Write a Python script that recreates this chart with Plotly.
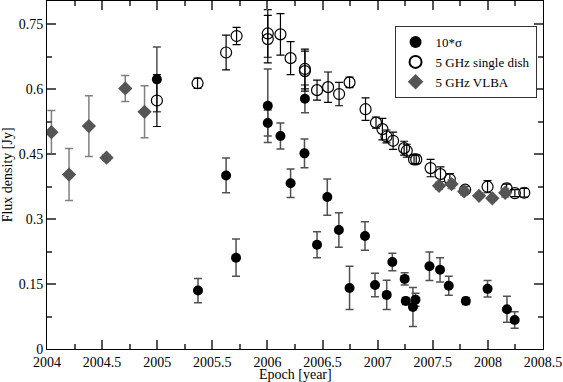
import plotly.graph_objects as go

# 10*sigma (filled circles)
sig_x = [2004.997, 2005.37, 2005.625, 2005.715, 2006.003, 2006.003, 2006.118, 2006.21,
         2006.336, 2006.34, 2006.45, 2006.543, 2006.648, 2006.745, 2006.885, 2006.976,
         2007.082, 2007.133, 2007.245, 2007.255, 2007.32, 2007.343, 2007.47, 2007.566,
         2007.645, 2007.8, 2007.997, 2008.173, 2008.243]
sig_y = [0.623, 0.135, 0.401, 0.211, 0.562, 0.522, 0.492, 0.383,
         0.452, 0.578, 0.241, 0.351, 0.275, 0.141, 0.261, 0.148,
         0.125, 0.201, 0.162, 0.111, 0.097, 0.114, 0.191, 0.183,
         0.146, 0.111, 0.139, 0.092, 0.067]
sig_err = [0.075, 0.028, 0.04, 0.043, 0.085, 0.03, 0.03, 0.033,
           0.033, 0.032, 0.03, 0.042, 0.04, 0.05, 0.033, 0.027,
           0.034, 0.02, 0.014, 0.008, 0.045, 0.015, 0.033, 0.028,
           0.022, 0.008, 0.019, 0.03, 0.019]

# 5 GHz single dish (open circles)
sd_x = [2004.997, 2005.366, 2005.625, 2005.72, 2006.003, 2006.003, 2006.118, 2006.21,
        2006.34, 2006.34, 2006.45, 2006.55, 2006.65, 2006.745, 2006.89, 2006.985,
        2007.043, 2007.08, 2007.14, 2007.24, 2007.264, 2007.33, 2007.35, 2007.48,
        2007.57, 2007.655, 2007.794, 2007.997, 2008.17, 2008.245, 2008.33]
sd_y = [0.574, 0.614, 0.685, 0.723, 0.729, 0.716, 0.727, 0.672,
        0.647, 0.642, 0.598, 0.605, 0.589, 0.616, 0.554, 0.523,
        0.508, 0.491, 0.481, 0.464, 0.458, 0.438, 0.438, 0.418,
        0.404, 0.392, 0.368, 0.375, 0.371, 0.36, 0.361]
sd_err = [0.06, 0.012, 0.04, 0.02, 0.055, 0.055, 0.048, 0.038,
          0.046, 0.046, 0.023, 0.035, 0.027, 0.012, 0.026, 0.013,
          0.025, 0.015, 0.02, 0.016, 0.015, 0.01, 0.01, 0.02,
          0.017, 0.013, 0.008, 0.014, 0.01, 0.008, 0.01]

# 5 GHz VLBA (diamonds)
vlba_x = [2004.04, 2004.20, 2004.38, 2004.54, 2004.71, 2004.885,
          2007.557, 2007.67, 2007.785, 2007.92, 2008.04, 2008.157]
vlba_y = [0.501, 0.403, 0.515, 0.442, 0.602, 0.548,
          0.377, 0.381, 0.364, 0.354, 0.348, 0.361]
vlba_err = [0.05, 0.06, 0.07, 0.007, 0.03, 0.06,
            0.008, 0.01, 0.008, 0.006, 0.006, 0.01]

x_ticks = [2004, 2004.5, 2005, 2005.5, 2006, 2006.5, 2007, 2007.5, 2008, 2008.5]
x_labels = ["2004", "2004.5", "2005", "2005.5", "2006", "2006.5", "2007", "2007.5", "2008", "2008.5"]
y_ticks = [0, 0.15, 0.3, 0.45, 0.6, 0.75]
y_labels = ["0", "0.15", "0.3", "0.45", "0.6", "0.75"]

font = "Liberation Serif, Times New Roman, serif"

fig = go.Figure()
fig.add_trace(go.Scatter(
    x=sig_x, y=sig_y, mode="markers", name="10*σ",
    marker=dict(symbol="circle", size=10, color="black"),
    error_y=dict(type="data", array=sig_err, color="#505050", thickness=1.5, width=4),
))
fig.add_trace(go.Scatter(
    x=sd_x, y=sd_y, mode="markers", name="5 GHz single dish",
    marker=dict(symbol="circle-open", size=11, color="black", line=dict(width=1.2)),
    error_y=dict(type="data", array=sd_err, color="black", thickness=1.2, width=4),
))
fig.add_trace(go.Scatter(
    x=vlba_x, y=vlba_y, mode="markers", name="5 GHz VLBA",
    marker=dict(symbol="diamond", size=11, color="#555555"),
    error_y=dict(type="data", array=vlba_err, color="#808080", thickness=1.5, width=4),
))

axis_common = dict(
    showline=True, linecolor="black", linewidth=1, mirror="allticks",
    ticks="inside", ticklen=9, tickcolor="#555555", tickwidth=1.5,
    showgrid=False, zeroline=False, automargin=False,
    tickfont=dict(family=font, size=14, color="black"),
)

fig.update_xaxes(
    range=[2004, 2008.5], tickvals=x_ticks, ticktext=x_labels,
    minor=dict(ticks="inside", ticklen=5, dtick=0.25, tick0=2004, tickcolor="#555555"),
    **axis_common,
)
fig.update_yaxes(
    range=[0, 0.804], tickvals=y_ticks, ticktext=y_labels,
    minor=dict(ticks="inside", ticklen=5, dtick=0.075, tick0=0, tickcolor="#555555"),
    **axis_common,
)

# axis titles as annotations for exact placement
fig.add_annotation(text="Epoch [year]", xref="paper", yref="paper", x=0.5, y=-0.074,
                   xanchor="center", yanchor="middle", showarrow=False,
                   font=dict(family=font, size=14, color="black"))
fig.add_annotation(text="Flux density [Jy]", xref="paper", yref="paper", x=-0.08, y=0.5,
                   xanchor="center", yanchor="middle", showarrow=False, textangle=-90,
                   font=dict(family=font, size=14, color="black"))

fig.update_layout(
    width=563, height=382,
    margin=dict(l=47, r=20, t=1, b=33),
    paper_bgcolor="white", plot_bgcolor="white",
    font=dict(family=font, size=14, color="black"),
    legend=dict(
        x=0.987, y=0.928, xanchor="right", yanchor="top",
        bgcolor="white", bordercolor="#333333", borderwidth=1,
        font=dict(family=font, size=13),
        tracegroupgap=0, itemsizing="constant",
    ),
)

fig.write_html("out.html", config={"displayModeBar": False},
               post_script="document.body.style.margin='0';")
